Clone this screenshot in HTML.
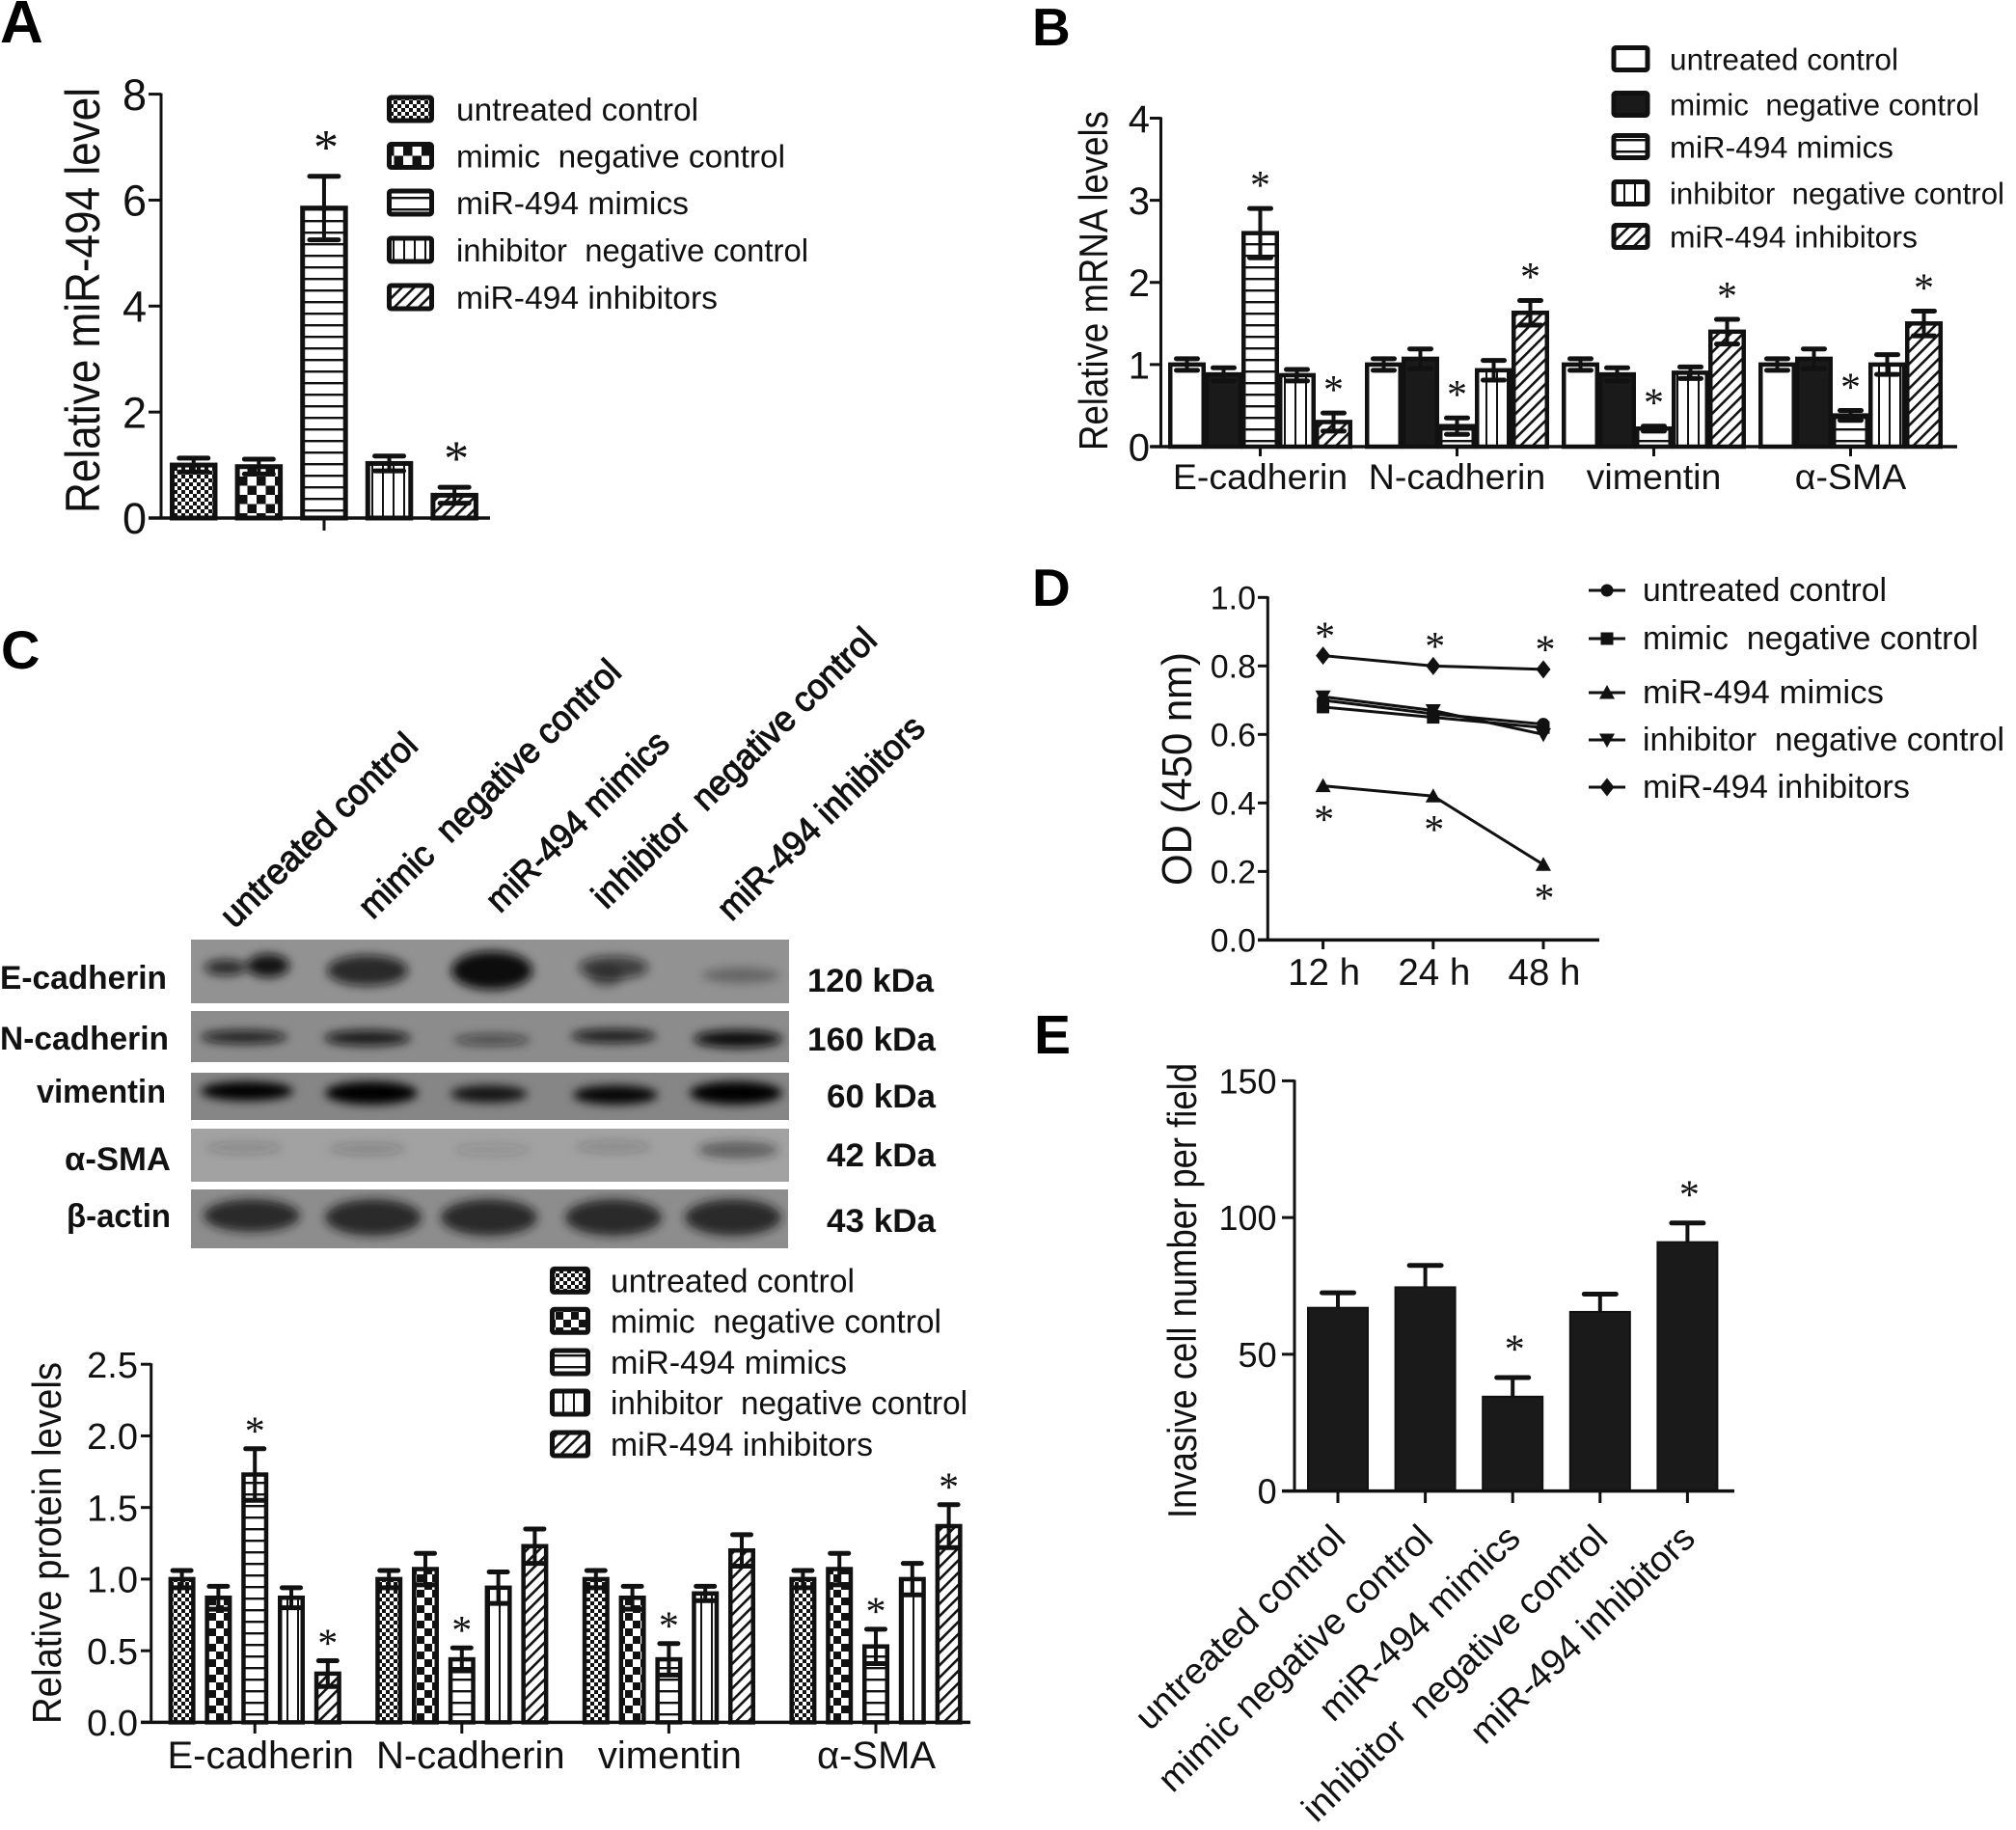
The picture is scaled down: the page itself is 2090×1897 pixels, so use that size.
<!DOCTYPE html>
<html lang="en">
<head>
<meta charset="utf-8">
<title>miR-494 multi-panel figure</title>
<style>
html,body{margin:0;padding:0;background:#fff;}
svg#figure{display:block;width:2090px;height:1897px;}
text{font-family:"Liberation Sans","DejaVu Sans",sans-serif;fill:#111;white-space:pre;}
.panel{font-weight:bold;fill:#000;}
.blotb{font-weight:bold;}
.top{stroke:#111;stroke-width:1.1px;}
</style>
</head>
<body>
<svg id="figure" xmlns="http://www.w3.org/2000/svg" width="2090" height="1897" viewBox="0 0 2090 1897">
<defs>
  <pattern id="p-dense" width="8" height="8" patternUnits="userSpaceOnUse">
    <rect width="8" height="8" fill="#fff"/><rect width="4" height="4" fill="#111"/><rect x="4" y="4" width="4" height="4" fill="#111"/>
  </pattern>
  <pattern id="p-check" width="19" height="19" patternUnits="userSpaceOnUse">
    <rect width="19" height="19" fill="#fff"/><rect width="9.5" height="9.5" fill="#111"/><rect x="9.5" y="9.5" width="9.5" height="9.5" fill="#111"/>
  </pattern>
  <pattern id="p-check-small" width="16" height="16" patternUnits="userSpaceOnUse">
    <rect width="16" height="16" fill="#fff"/><rect width="8" height="8" fill="#111"/><rect x="8" y="8" width="8" height="8" fill="#111"/>
  </pattern>
  <pattern id="p-hlines" width="12" height="12" patternUnits="userSpaceOnUse">
    <rect width="12" height="12" fill="#fff"/><rect width="12" height="2.4" fill="#111"/>
  </pattern>
  <pattern id="p-vlines" width="11" height="12" patternUnits="userSpaceOnUse">
    <rect width="11" height="12" fill="#fff"/><rect width="2" height="12" fill="#111"/>
  </pattern>
  <pattern id="p-hatch" width="9" height="9" patternUnits="userSpaceOnUse" patternTransform="rotate(45)">
    <rect width="9" height="9" fill="#fff"/><rect width="2.6" height="9" fill="#111"/>
  </pattern>
  <filter id="blur5" x="-40%" y="-100%" width="180%" height="300%"><feGaussianBlur stdDeviation="5"/></filter>
</defs>

<!-- Panel letters -->
<text class="panel" x="0" y="44" font-size="62">A</text>
<text class="panel" x="1070" y="47" font-size="55">B</text>
<text class="panel" x="1" y="693" font-size="56">C</text>
<text class="panel" x="1070" y="628" font-size="55">D</text>
<text class="panel" x="1072" y="1092" font-size="57">E</text>

<!-- Axis titles -->
<text transform="translate(103,532) rotate(-90)" font-size="50" textLength="441" lengthAdjust="spacingAndGlyphs">Relative miR-494 level</text>
<text transform="translate(1148,467) rotate(-90)" font-size="42" textLength="352" lengthAdjust="spacingAndGlyphs">Relative mRNA levels</text>
<text transform="translate(63,1787) rotate(-90)" font-size="42" textLength="375" lengthAdjust="spacingAndGlyphs">Relative protein levels</text>
<text transform="translate(1235,918) rotate(-90)" font-size="44" textLength="242" lengthAdjust="spacingAndGlyphs">OD (450 nm)</text>
<text transform="translate(1240,1574) rotate(-90)" font-size="42" textLength="472" lengthAdjust="spacingAndGlyphs">Invasive cell number per field</text>

<!-- Western blot column labels -->
<text class="top" transform="translate(435,775) rotate(-44.5)" text-anchor="end" font-size="37" textLength="269" lengthAdjust="spacingAndGlyphs">untreated control</text>
<text class="top" transform="translate(646,699) rotate(-44.5)" text-anchor="end" font-size="37" textLength="364" lengthAdjust="spacingAndGlyphs">mimic  negative control</text>
<text class="top" transform="translate(696,773) rotate(-44.5)" text-anchor="end" font-size="37" textLength="249" lengthAdjust="spacingAndGlyphs">miR-494 mimics</text>
<text class="top" transform="translate(911,666) rotate(-44.5)" text-anchor="end" font-size="37" textLength="396" lengthAdjust="spacingAndGlyphs">inhibitor  negative control</text>
<text class="top" transform="translate(961,757) rotate(-44.5)" text-anchor="end" font-size="37" textLength="284" lengthAdjust="spacingAndGlyphs">miR-494 inhibitors</text>

<!-- Western blot strips -->
<svg x="198" y="974" width="620" height="66" viewBox="198 974 620 66">
  <rect x="198" y="974" width="620" height="66" fill="#929292"/>
  <g fill="#0c0c0c" filter="url(#blur5)">
    <ellipse cx="234" cy="1003" rx="22" ry="8" opacity=".8"/><ellipse cx="278" cy="1001" rx="22" ry="12" opacity=".95"/>
    <ellipse cx="381" cy="1006" rx="42" ry="16" opacity=".8"/><ellipse cx="510" cy="1006" rx="42" ry="20" opacity="1"/>
    <ellipse cx="636" cy="1003" rx="36" ry="12" opacity=".65"/><ellipse cx="628" cy="1012" rx="18" ry="11" opacity=".4"/>
    <ellipse cx="768" cy="1011" rx="40" ry="8" opacity=".3"/>
  </g>
</svg>
<svg x="198" y="1048" width="620" height="53" viewBox="198 1048 620 53">
  <rect x="198" y="1048" width="620" height="53" fill="#8c8c8c"/>
  <g fill="#0c0c0c" filter="url(#blur5)">
    <ellipse cx="253" cy="1075" rx="45" ry="7" opacity=".85"/><ellipse cx="381" cy="1076" rx="45" ry="8" opacity=".9"/>
    <ellipse cx="510" cy="1078" rx="40" ry="6" opacity=".55"/><ellipse cx="636" cy="1074" rx="44" ry="7" opacity=".9"/>
    <ellipse cx="765" cy="1077" rx="46" ry="9" opacity="1"/>
  </g>
</svg>
<svg x="198" y="1112" width="620" height="49" viewBox="198 1112 620 49">
  <rect x="198" y="1112" width="620" height="49" fill="#868686"/>
  <g fill="#060606" filter="url(#blur5)">
    <ellipse cx="256" cy="1131" rx="48" ry="10" opacity="1"/><ellipse cx="385" cy="1133" rx="48" ry="12" opacity="1"/>
    <ellipse cx="507" cy="1134" rx="40" ry="9" opacity=".85"/><ellipse cx="638" cy="1135" rx="44" ry="10" opacity=".95"/>
    <ellipse cx="763" cy="1133" rx="48" ry="12" opacity="1"/>
  </g>
</svg>
<svg x="198" y="1170" width="620" height="55" viewBox="198 1170 620 55">
  <rect x="198" y="1170" width="620" height="55" fill="#a2a2a2"/>
  <g fill="#222" filter="url(#blur5)">
    <ellipse cx="253" cy="1190" rx="40" ry="6" opacity=".2"/><ellipse cx="381" cy="1191" rx="40" ry="6" opacity=".22"/>
    <ellipse cx="510" cy="1192" rx="40" ry="6" opacity=".14"/><ellipse cx="636" cy="1189" rx="40" ry="6" opacity=".2"/>
    <ellipse cx="765" cy="1192" rx="42" ry="9" opacity=".5"/>
  </g>
</svg>
<svg x="198" y="1233" width="619" height="61" viewBox="198 1233 619 61">
  <rect x="198" y="1233" width="619" height="61" fill="#8d8d8d"/>
  <g fill="#161616" filter="url(#blur5)">
    <ellipse cx="261" cy="1260" rx="50" ry="17" opacity=".85"/><ellipse cx="387" cy="1262" rx="50" ry="19" opacity=".85"/>
    <ellipse cx="507" cy="1262" rx="50" ry="19" opacity=".85"/><ellipse cx="636" cy="1262" rx="50" ry="19" opacity=".85"/>
    <ellipse cx="760" cy="1262" rx="50" ry="19" opacity=".85"/>
  </g>
</svg>

<!-- Western blot row labels -->
<text class="blotb" x="0" y="1025" font-size="34" textLength="173" lengthAdjust="spacingAndGlyphs">E-cadherin</text>
<text class="blotb" x="0" y="1088" font-size="34" textLength="175" lengthAdjust="spacingAndGlyphs">N-cadherin</text>
<text class="blotb" x="38" y="1143" font-size="34" textLength="134" lengthAdjust="spacingAndGlyphs">vimentin</text>
<text class="blotb" x="67" y="1213" font-size="34" textLength="110" lengthAdjust="spacingAndGlyphs">α-SMA</text>
<text class="blotb" x="69" y="1272" font-size="34" textLength="108" lengthAdjust="spacingAndGlyphs">β-actin</text>
<text class="blotb" x="837" y="1028" font-size="34" textLength="131" lengthAdjust="spacingAndGlyphs">120 kDa</text>
<text class="blotb" x="837" y="1089" font-size="34" textLength="133" lengthAdjust="spacingAndGlyphs">160 kDa</text>
<text class="blotb" x="857" y="1148" font-size="34" textLength="113" lengthAdjust="spacingAndGlyphs">60 kDa</text>
<text class="blotb" x="857" y="1209" font-size="34" textLength="113" lengthAdjust="spacingAndGlyphs">42 kDa</text>
<text class="blotb" x="857" y="1277" font-size="34" textLength="113" lengthAdjust="spacingAndGlyphs">43 kDa</text>

<g id="charts"></g>
</svg>

<script>
// ---- Shared labels ----
const seriesNames = ['untreated control', 'mimic  negative control', 'miR-494 mimics', 'inhibitor  negative control', 'miR-494 inhibitors'];
const markerKinds = ['circle', 'square', 'triangle', 'triangle-down', 'diamond'];

// ---- Panel A data ----
const aTicks = [0, 2, 4, 6, 8];
const aValues = [1.0, 0.97, 5.85, 1.03, 0.43];
const aErrors = [0.13, 0.14, 0.6, 0.14, 0.15];
const aStars = [0, 0, 1, 0, 1];

// ---- Panel B data ----
const bTicks = [0, 1, 2, 3, 4];
const bCategories = ['E-cadherin', 'N-cadherin', 'vimentin', 'α-SMA'];
const bValues = [
  [1.0, 0.88, 2.6, 0.87, 0.3],
  [1.0, 1.07, 0.25, 0.93, 1.63],
  [1.0, 0.88, 0.22, 0.9, 1.4],
  [1.0, 1.07, 0.38, 1.0, 1.5]
];
const bErrors = [
  [0.07, 0.08, 0.3, 0.07, 0.11],
  [0.07, 0.12, 0.1, 0.12, 0.15],
  [0.07, 0.08, 0.03, 0.07, 0.15],
  [0.07, 0.12, 0.06, 0.12, 0.15]
];
const bStars = [
  [0, 0, 1, 0, 1],
  [0, 0, 1, 0, 1],
  [0, 0, 1, 0, 1],
  [0, 0, 1, 0, 1]
];

// ---- Panel C data ----
const cTicks = ['0.0', '0.5', '1.0', '1.5', '2.0', '2.5'];
const cCategories = ['E-cadherin', 'N-cadherin', 'vimentin', 'α-SMA'];
const cValues = [
  [1.0, 0.87, 1.73, 0.87, 0.34],
  [1.0, 1.07, 0.44, 0.94, 1.23],
  [1.0, 0.87, 0.44, 0.9, 1.2],
  [1.0, 1.07, 0.53, 1.0, 1.37]
];
const cErrors = [
  [0.06, 0.08, 0.18, 0.07, 0.09],
  [0.06, 0.11, 0.08, 0.11, 0.12],
  [0.06, 0.08, 0.11, 0.05, 0.11],
  [0.06, 0.11, 0.12, 0.11, 0.15]
];
const cStars = [
  [0, 0, 1, 0, 1],
  [0, 0, 1, 0, 0],
  [0, 0, 1, 0, 0],
  [0, 0, 1, 0, 1]
];

// ---- Panel D data ----
const dTicks = ['0.0', '0.2', '0.4', '0.6', '0.8', '1.0'];
const dCategories = ['12 h', '24 h', '48 h'];
const dUntreated = [0.70, 0.66, 0.63];
const dMimicNeg = [0.68, 0.65, 0.62];
const dMimics = [0.45, 0.42, 0.22];
const dInhibitorNeg = [0.71, 0.67, 0.60];
const dInhibitors = [0.83, 0.80, 0.79];
const dSeries = [dUntreated, dMimicNeg, dMimics, dInhibitorNeg, dInhibitors];

// ---- Panel E data ----
const eTicks = [0, 50, 100, 150];
const eCategories = ['untreated control', 'mimic negative control', 'miR-494 mimics', 'inhibitor  negative control', 'miR-494 inhibitors'];
const eValues = [67, 74.5, 34.5, 65.5, 91];
const eErrors = [5.5, 8, 7, 6.5, 7];
const eStars = [0, 0, 1, 0, 1];

// ---- Helpers ----
const NS = 'http://www.w3.org/2000/svg';
const root = document.getElementById('charts');
function mk(tag, attrs, parent) {
  const el = document.createElementNS(NS, tag);
  for (const k in attrs) el.setAttribute(k, attrs[k]);
  (parent || root).appendChild(el);
  return el;
}
function slug(s) { return String(s).toLowerCase().replace(/[^a-z0-9α]+/g, '-').replace(/-+$/, ''); }
function linear(d0, d1, r0, r1) { return function (v) { return r0 + (v - d0) * (r1 - r0) / (d1 - d0); }; }
function label(str, x, y, size, anchor, parent) {
  const t = mk('text', { x: x, y: y, 'font-size': size, 'text-anchor': anchor || 'start' }, parent);
  t.textContent = str;
  return t;
}
function line(x1, y1, x2, y2, w, parent) {
  return mk('line', { x1: x1, y1: y1, x2: x2, y2: y2, stroke: '#111', 'stroke-width': w }, parent);
}
function star(cx, cy, size, parent, name) {
  const t = mk('text', { x: cx, y: cy + size * 0.47, 'font-size': size, 'text-anchor': 'middle', style: 'font-family:"Liberation Serif",serif' }, parent);
  t.textContent = '*';
  
  
  return t;
}
function drawYAxis(prefix, ticks, y, axisX, tickLeft, labelRight, size, w, g) {
  const ax = line(axisX, y(Number(ticks[ticks.length - 1])) - 1, axisX, y(Number(ticks[0])), w, g);
  
  
  ticks.forEach(function (tk) {
    const py = y(Number(tk));
    const tm = line(tickLeft, py, axisX, py, w, g);
    
    
    const tl = label(String(tk), labelRight, py + size * 0.36, size, 'end', g);
    
    
  });
}
function drawXAxis(prefix, y0, x0, x1, w, g) {
  const ax = line(x0, y0, x1, y0, w, g);
  
  
}
function xTick(prefix, x, y0, yEnd, g) {
  const t = line(x, y0, x, yEnd, 3, g);
  
  
}
function bar(prefix, x, w, v, err, y, fill, border, capW, both, g, name) {
  const top = y(v), bottom = y(0);
  const r = mk('rect', { x: x + border / 2, y: top, width: w - border, height: bottom - top, fill: fill, stroke: '#111', 'stroke-width': border }, g);
  
  
  const cx = x + w / 2;
  const eg = mk('g', {}, g);
  
  
  const upper = y(v + err), lower = y(v - err);
  line(cx, both ? lower : top, cx, upper, 4, eg);
  mk('line', { x1: cx - capW / 2, y1: upper, x2: cx + capW / 2, y2: upper, stroke: '#111', 'stroke-width': 5, 'stroke-linecap': 'round' }, eg);
  if (both) mk('line', { x1: cx - capW / 2, y1: lower, x2: cx + capW / 2, y2: lower, stroke: '#111', 'stroke-width': 5, 'stroke-linecap': 'round' }, eg);
  return { cx: cx, upper: upper };
}
function swatchLegend(prefix, boxX, boxW, boxH, textX, size, rows, fills, border, widths) {
  const g = mk('g', {});
  
  
  seriesNames.forEach(function (nm, i) {
    const s = mk('rect', { x: boxX, y: rows[i] - boxH / 2, width: boxW, height: boxH, rx: 2, fill: fills[i], stroke: '#111', 'stroke-width': border }, g);
    
    
    const t = label(nm, textX, rows[i] + size * 0.36, size, 'start', g);
    t.setAttribute('textLength', widths[i]);
    t.setAttribute('lengthAdjust', 'spacingAndGlyphs');
    
    
  });
}
function marker(kind, x, y, parent) {
  if (kind === 'circle') return mk('circle', { cx: x, cy: y, r: 6.5, fill: '#111' }, parent);
  if (kind === 'square') return mk('rect', { x: x - 6.5, y: y - 6.5, width: 13, height: 13, fill: '#111' }, parent);
  if (kind === 'triangle') return mk('polygon', { points: (x - 8) + ',' + (y + 6.5) + ' ' + (x + 8) + ',' + (y + 6.5) + ' ' + x + ',' + (y - 8) , fill: '#111' }, parent);
  if (kind === 'triangle-down') return mk('polygon', { points: (x - 8) + ',' + (y - 6.5) + ' ' + (x + 8) + ',' + (y - 6.5) + ' ' + x + ',' + (y + 8), fill: '#111' }, parent);
  return mk('polygon', { points: x + ',' + (y - 9.5) + ' ' + (x + 7.5) + ',' + y + ' ' + x + ',' + (y + 9.5) + ' ' + (x - 7.5) + ',' + y, fill: '#111' }, parent);
}

// ---- Panel A ----
(function () {
  const g = mk('g', {});
  
  
  const y = linear(0, 8, 537, 97.6);
  const fills = ['url(#p-dense)', 'url(#p-check)', 'url(#p-hlines)', 'url(#p-vlines)', 'url(#p-hatch)'];
  aValues.forEach(function (v, i) {
    const b = bar('panel-a', 176 + i * 67.6, 49.5, v, aErrors[i], y, fills[i], 5, 30, true, g, slug(seriesNames[i]));
    if (aStars[i]) star(b.cx + 2, b.upper - 37, 52, g, 'panel-a-' + i);
  });
  drawYAxis('panel-a', aTicks, y, 167, 154, 152, 45, 3, g);
  drawXAxis('panel-a', 537, 154, 508, 3.5, g);
  xTick('panel-a', 336, 537, 550, g);
  swatchLegend('panel-a', 403.5, 44, 24, 473, 33.4, [113, 161.5, 210, 259, 308], fills, 5, [251, 341, 241, 365, 271]);
})();

// ---- Panel B ----
(function () {
  const g = mk('g', {});
  
  
  const y = linear(0, 4, 463, 122.5);
  const fills = ['#fff', '#1a1a1a', 'url(#p-hlines)', 'url(#p-vlines)', 'url(#p-hatch)'];
  bCategories.forEach(function (cat, c) {
    const gx = 1211 + c * 204;
    bValues[c].forEach(function (v, i) {
      const b = bar('panel-b', gx + i * 38, 39, v, bErrors[c][i], y, fills[i], 4.5, 22, true, g, slug(cat) + '-' + slug(seriesNames[i]));
      if (bStars[c][i]) star(b.cx, b.upper - 30, 42, g, 'panel-b-' + c + '-' + i);
    });
    const tickX = gx + 2 * 38 + 19.5;
    xTick('panel-b', tickX, 463, 473, g);
    const t = label(cat, tickX, 507, 37.5, 'middle', g);
    
    
  });
  drawYAxis('panel-b', bTicks, y, 1203.5, 1192, 1192, 40, 3, g);
  drawXAxis('panel-b', 463, 1193, 2029, 3.5, g);
  swatchLegend('panel-b', 1673, 35, 23, 1731, 31.5, [61, 108, 152, 200, 245], fills, 5, [237, 321, 232, 347, 257]);
})();

// ---- Panel C ----
(function () {
  const g = mk('g', {});
  
  
  const y = linear(0, 2.5, 1785.4, 1414.2);
  const fills = ['url(#p-dense)', 'url(#p-check-small)', 'url(#p-hlines)', 'url(#p-vlines)', 'url(#p-hatch)'];
  const labelNudge = [6, 9, 1, 0.5];
  cCategories.forEach(function (cat, c) {
    const gx = 174.6 + c * 214.6;
    cValues[c].forEach(function (v, i) {
      const b = bar('panel-c', gx + i * 37.8, 28, v, cErrors[c][i], y, fills[i], 4.5, 19, true, g, slug(cat) + '-' + slug(seriesNames[i]));
      if (cStars[c][i]) star(b.cx, b.upper - 24, 42, g, 'panel-c-' + c + '-' + i);
    });
    const tickX = gx + 2 * 37.8 + 14;
    xTick('panel-c', tickX, 1785.4, 1797, g);
    const t = label(cat, tickX + labelNudge[c], 1833, 40, 'middle', g);
    
    
  });
  drawYAxis('panel-c', cTicks, y, 156.7, 146, 143, 38, 3, g);
  drawXAxis('panel-c', 1785.4, 146, 1006, 3.5, g);
  swatchLegend('panel-c', 572.5, 37, 24, 633, 33.8, [1327.4, 1369.3, 1412, 1454, 1497], fills, 5, [253, 343, 245, 370, 272]);
})();

// ---- Panel D ----
(function () {
  const g = mk('g', {});
  
  
  const y = linear(0, 1, 974.4, 619.3);
  const x = function (i) { return 1371.6 + i * 114.2; };
  dSeries.forEach(function (vals, s) {
    const pts = vals.map(function (v, i) { return x(i) + ',' + y(v); }).join(' ');
    const pl = mk('polyline', { points: pts, fill: 'none', stroke: '#111', 'stroke-width': 3 }, g);
    
    
    vals.forEach(function (v, i) {
      const m = marker(markerKinds[s], x(i), y(v), g);
      
      
    });
  });
  dInhibitors.forEach(function (v, i) { star(x(i) + 2, y(v) - 26, 42, g, 'panel-d-upper-' + i); });
  dMimics.forEach(function (v, i) { star(x(i) + 1, y(v) + 29, 42, g, 'panel-d-lower-' + i); });
  drawYAxis('panel-d', dTicks, y, 1314.3, 1304, 1302, 34, 3, g);
  drawXAxis('panel-d', 974.4, 1304, 1658, 3.5, g);
  dCategories.forEach(function (cat, i) {
    xTick('panel-d', x(i), 974.4, 984, g);
    const t = label(cat, x(i) + 1, 1021, 38.5, 'middle', g);
    
    
  });
  const lg = mk('g', {});
  
  
  const legendWidths = [253, 348, 250, 375, 277];
  [612, 662, 718, 767, 816].forEach(function (ry, i) {
    const ll = line(1647, ry, 1685, ry, 3, lg);
    
    
    const m = marker(markerKinds[i], 1666, ry, lg);
    
    
    const t = label(seriesNames[i], 1703, ry + 11, 33.8, 'start', lg);
    t.setAttribute('textLength', legendWidths[i]);
    t.setAttribute('lengthAdjust', 'spacingAndGlyphs');
    
    
  });
})();

// ---- Panel E ----
(function () {
  const g = mk('g', {});
  
  
  const y = linear(0, 150, 1545.6, 1120.4);
  eValues.forEach(function (v, i) {
    const b = bar('panel-e', 1355 + i * 90.6, 64, v, eErrors[i], y, '#1a1a1a', 2, 33, false, g, slug(eCategories[i]));
    if (eStars[i]) star(b.cx + 2, b.upper - 35, 42, g, 'panel-e-' + i);
    const tickX = 1355 + i * 90.6 + 32;
    xTick('panel-e', tickX, 1545.6, 1558, g);
    const t = mk('text', { transform: 'translate(' + (tickX + 10) + ',1597) rotate(-44)', 'text-anchor': 'end', 'font-size': 38 }, g);
    t.textContent = eCategories[i];
    
    
  });
  drawYAxis('panel-e', eTicks, y, 1342, 1329, 1323.6, 36, 3, g);
  drawXAxis('panel-e', 1545.6, 1329, 1798, 3.5, g);
})();
</script>
</body>
</html>
